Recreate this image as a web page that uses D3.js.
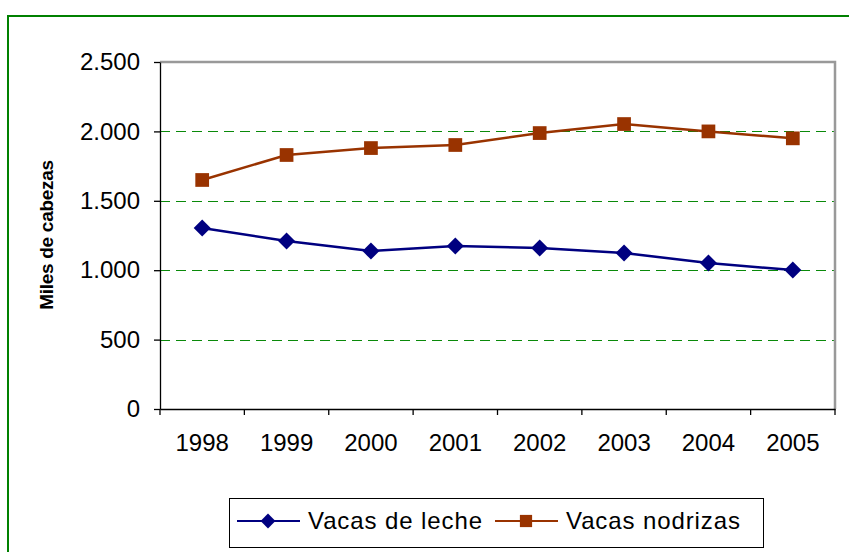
<!DOCTYPE html>
<html>
<head>
<meta charset="utf-8">
<script src="https://cdn.jsdelivr.net/npm/d3@7"></script>
<style>
	body { margin: 0; background: #fff; }
	text { font-family: "Liberation Sans", Arial, sans-serif; }
</style>
</head>
<body>
<div id="chart"></div>
<script>
var years = ["1998", "1999", "2000", "2001", "2002", "2003", "2004", "2005"];
var leche = [1304, 1210, 1138, 1174, 1160, 1124, 1052, 1001];
var nodrizas = [1650, 1830, 1880, 1902, 1988, 2053, 2000, 1950];
var yTicks = [0, 500, 1000, 1500, 2000, 2500];
var seriesNames = ["Vacas de leche", "Vacas nodrizas"];

var width = 849, height = 552;
var margin = {top: 62, right: 14, bottom: 143, left: 160};
var w = width - margin.left - margin.right;
var h = height - margin.top - margin.bottom;

var fmt = function(d) { return d3.format(",")(d).replace(/,/g, "."); };

var svg = d3.select("#chart").append("svg")
	.attr("width", width)
	.attr("height", height);

// outer green frame (runs off the right and bottom)
svg.append("rect")
	.attr("x", 8).attr("y", 16)
	.attr("width", 860).attr("height", 560)
	.style("fill", "none")
	.style("stroke", "#008000")
	.style("stroke-width", 2);

var g = svg.append("g")
	.attr("transform", "translate(" + margin.left + "," + margin.top + ")");

var x = d3.scaleBand().domain(years).range([0, w]);
var y = d3.scaleLinear().domain([0, 2500]).range([h, 0]);

// grid lines
g.append("g").selectAll("line")
	.data(yTicks.filter(function(d) { return d > 0 && d < 2500; }))
	.enter().append("line")
		.attr("x1", 0).attr("x2", w)
		.attr("y1", function(d) { return Math.round(y(d)) + 0.5; })
		.attr("y2", function(d) { return Math.round(y(d)) + 0.5; })
		.style("stroke", "#0a8a0a")
		.style("stroke-dasharray", "10,6");

// top and right border of plot area
g.append("path")
	.attr("d", "M0," + y(2500) + "H" + w + "V" + h)
	.style("fill", "none")
	.style("stroke", "#999")
	.style("stroke-width", 2.5);

// y axis
var yAxis = g.append("g")
	.call(d3.axisLeft(y).tickValues(yTicks).tickSize(6).tickSizeOuter(0).tickFormat(fmt));
yAxis.attr("font-size", null);
yAxis.selectAll("text")
	.attr("x", -20)
	.style("font-size", "24px")
	.style("fill", "#000");
yAxis.selectAll("line, path").style("stroke", "#000").style("stroke-width", 1.3);

// x axis
var xAxis = g.append("g")
	.attr("transform", "translate(0," + h + ")")
	.call(d3.axisBottom(x).tickSize(0).tickSizeOuter(0));
xAxis.attr("font-size", null);
xAxis.select("path").style("stroke", "#000").style("stroke-width", 1.3);
xAxis.selectAll("text")
	.attr("y", 25)
	.style("font-size", "24px")
	.style("fill", "#000");
// tick marks between categories
xAxis.append("g").selectAll("line")
	.data(years.concat(["end"]))
	.enter().append("line")
		.attr("x1", function(d, i) { return i * x.step(); })
		.attr("x2", function(d, i) { return i * x.step(); })
		.attr("y1", 0).attr("y2", 6)
		.style("stroke", "#000")
		.style("stroke-width", 1.3);

// y axis title
svg.append("text")
	.attr("transform", "translate(53,235) rotate(-90)")
	.attr("text-anchor", "middle")
	.style("font-size", "19px")
	.style("font-weight", "bold")
	.style("letter-spacing", "-0.3px")
	.text("Miles de cabezas");

var line = d3.line()
	.x(function(d, i) { return x(years[i]) + x.bandwidth() / 2; })
	.y(function(d) { return y(d); });

var series = [
	{name: seriesNames[0], values: leche, color: "#000080", shape: d3.symbolDiamond2, size: 184, lsize: 140},
	{name: seriesNames[1], values: nodrizas, color: "#993300", shape: d3.symbolSquare2, size: 240, lsize: 190}
];

series.forEach(function(s) {
	g.append("path")
		.attr("d", line(s.values))
		.style("fill", "none")
		.style("stroke", s.color)
		.style("stroke-width", 2.5);
	g.append("g").selectAll("path")
		.data(s.values)
		.enter().append("path")
			.attr("transform", function(d, i) {
				return "translate(" + (x(years[i]) + x.bandwidth() / 2) + "," + y(d) + ")";
			})
			.attr("d", d3.symbol().type(s.shape).size(s.size))
			.style("fill", s.color);
});

// legend
var legend = svg.append("g");
legend.append("rect")
	.attr("x", 229.5).attr("y", 498.5)
	.attr("width", 534).attr("height", 49)
	.style("fill", "#fff")
	.style("stroke", "#000")
	.style("stroke-width", 1);

var legendX = [237, 495];
series.forEach(function(s, i) {
	var lx = legendX[i], ly = 521;
	legend.append("line")
		.attr("x1", lx).attr("x2", lx + 63)
		.attr("y1", ly).attr("y2", ly)
		.style("stroke", s.color)
		.style("stroke-width", 2.2);
	legend.append("path")
		.attr("transform", "translate(" + (lx + 31) + "," + ly + ")")
		.attr("d", d3.symbol().type(s.shape).size(s.lsize))
		.style("fill", s.color);
	legend.append("text")
		.attr("x", lx + 71)
		.attr("y", ly + 8)
		.style("font-size", "24px")
		.style("letter-spacing", "0.9px")
		.text(s.name);
});
</script>
</body>
</html>
